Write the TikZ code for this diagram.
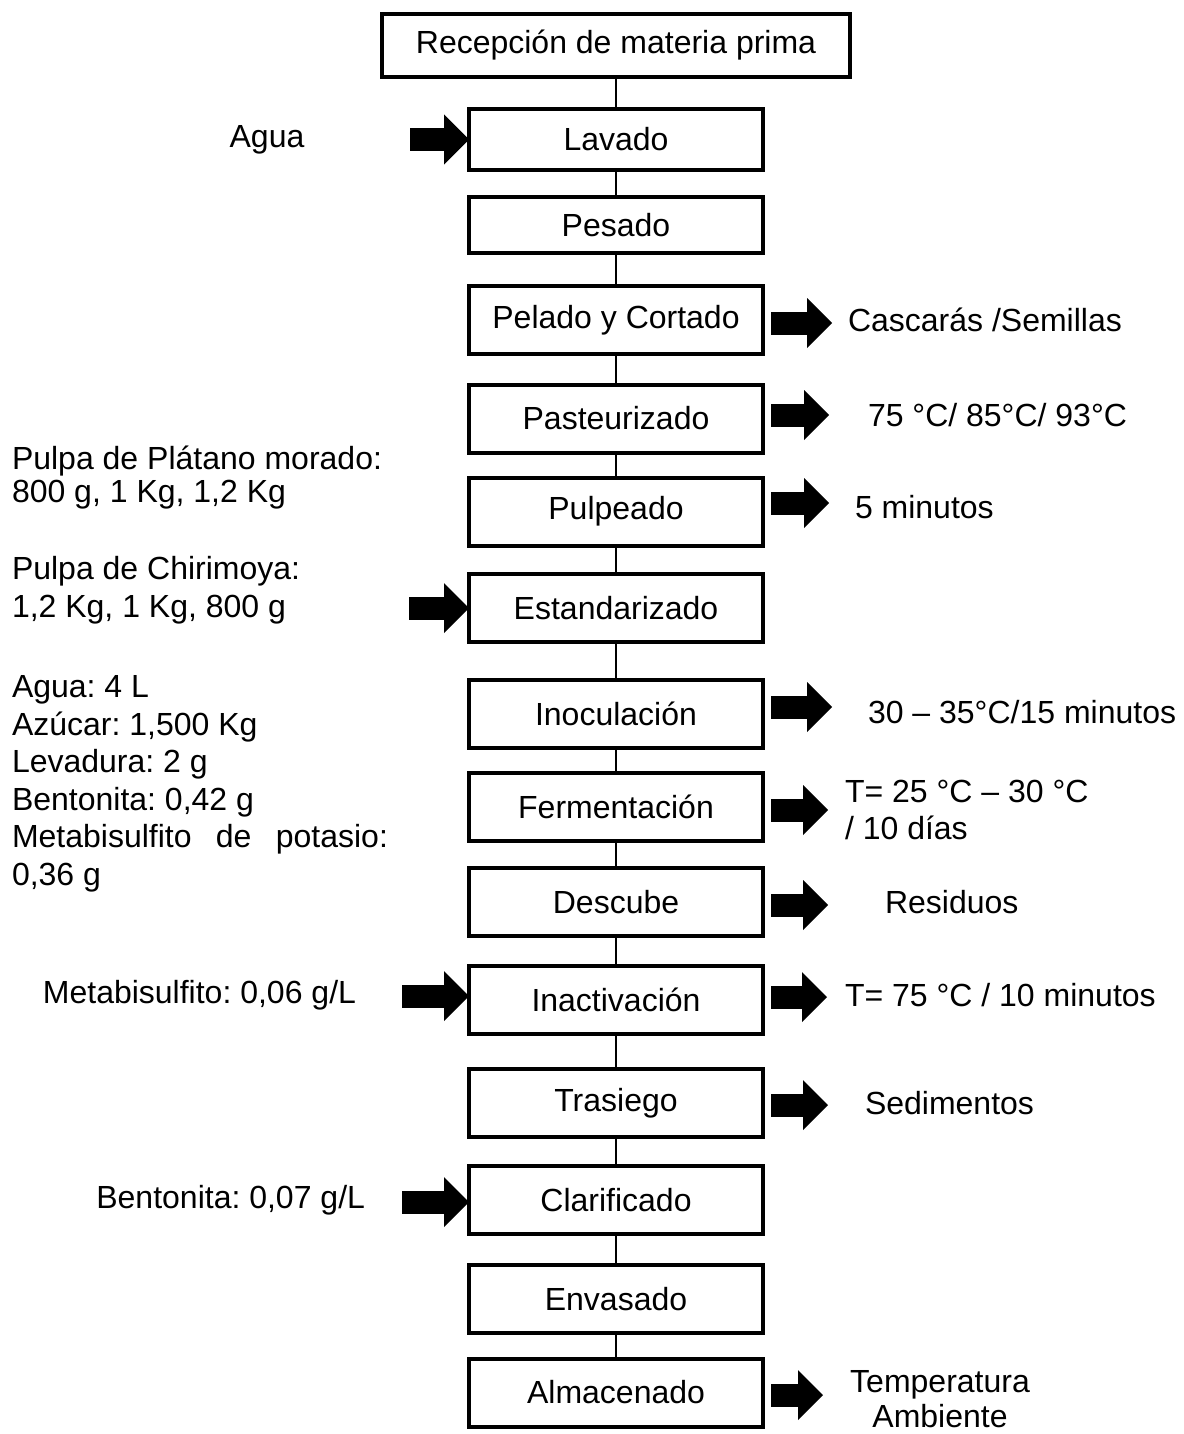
\documentclass[tikz,border=0pt]{standalone}
\usepackage{fontspec}
\setmainfont{Liberation Sans}
\usetikzlibrary{arrows.meta}
\frenchspacing

\begin{document}
\begin{tikzpicture}[x=0.5pt,y=-0.5pt]
  \tikzset{EtapaStyle/.style = {
    shape          = rectangle,
    draw           = black,
    fill           = white,
    line width     = 2pt,
    text           = black,
    inner sep      = 2pt,
    outer sep      = 0pt,
    minimum width  = 147pt,
    minimum height = 34pt,
    font           = \fontsize{16pt}{18.75pt}\selectfont
    }
  }
  \tikzset{TextoStyle/.style = {
    shape          = rectangle,
    text           = black,
    inner sep      = 0pt,
    outer sep      = 0pt,
    font           = \fontsize{16pt}{18.75pt}\selectfont
    }
  }
  \tikzset{LineaStyle/.style = {
    draw           = black,
    line width     = 0.75pt
    }
  }
  \tikzset{FlechaStyle/.style = {
    draw           = black,
    line width     = 11.5pt,
    -{Triangle[length=12.5pt, width=25pt, line width=0pt]}
    }
  }

  \useasboundingbox (0,0) rectangle (1183,1434);

  \node[EtapaStyle, minimum width=234pt, minimum height=31.5pt](recepcion) at (616, 45.5) {Recepción de materia prima};
  \node[EtapaStyle, minimum height=30.5pt](lavado) at (616, 139.5) {Lavado};
  \node[EtapaStyle, minimum height=28pt](pesado) at (616, 225) {Pesado};
  \node[EtapaStyle](pelado) at (616, 320) {Pelado y Cortado};
  \node[EtapaStyle](pasteurizado) at (616, 418.5) {Pasteurizado};
  \node[EtapaStyle](pulpeado) at (616, 511.5) {Pulpeado};
  \node[EtapaStyle](estandarizado) at (616, 608) {Estandarizado};
  \node[EtapaStyle](inoculacion) at (616, 714) {Inoculación};
  \node[EtapaStyle](fermentacion) at (616, 807) {Fermentación};
  \node[EtapaStyle](descube) at (616, 902) {Descube};
  \node[EtapaStyle](inactivacion) at (616, 999.5) {Inactivación};
  \node[EtapaStyle](trasiego) at (616, 1103) {Trasiego};
  \node[EtapaStyle](clarificado) at (616, 1200) {Clarificado};
  \node[EtapaStyle](envasado) at (616, 1299) {Envasado};
  \node[EtapaStyle](almacenado) at (616, 1392.5) {Almacenado};

  \draw[LineaStyle](recepcion) -- (lavado);
  \draw[LineaStyle](lavado) -- (pesado);
  \draw[LineaStyle](pesado) -- (pelado);
  \draw[LineaStyle](pelado) -- (pasteurizado);
  \draw[LineaStyle](pasteurizado) -- (pulpeado);
  \draw[LineaStyle](pulpeado) -- (estandarizado);
  \draw[LineaStyle](estandarizado) -- (inoculacion);
  \draw[LineaStyle](inoculacion) -- (fermentacion);
  \draw[LineaStyle](fermentacion) -- (descube);
  \draw[LineaStyle](descube) -- (inactivacion);
  \draw[LineaStyle](inactivacion) -- (trasiego);
  \draw[LineaStyle](trasiego) -- (clarificado);
  \draw[LineaStyle](clarificado) -- (envasado);
  \draw[LineaStyle](envasado) -- (almacenado);

  \node[TextoStyle](agua) at (267, 140) {Agua};
  \node[TextoStyle, anchor=west, align=left, font=\fontsize{16pt}{16.5pt}\selectfont](platano) at (12, 478) {Pulpa de Plátano morado:\\800 g, 1 Kg, 1,2 Kg};
  \node[TextoStyle, anchor=west, align=left](chirimoya) at (12, 590) {Pulpa de Chirimoya:\\1,2 Kg, 1 Kg, 800 g};
  \node[TextoStyle, anchor=west, align=left](insumos) at (12, 784) {Agua: 4 L\\Azúcar: 1,500 Kg\\Levadura: 2 g\\Bentonita: 0,42 g\\\makebox[188pt][s]{Metabisulfito de potasio:}\\0,36 g};
  \node[TextoStyle, anchor=east](metabisulfito) at (356, 995) {Metabisulfito: 0,06 g/L};
  \node[TextoStyle, anchor=east](bentonita) at (365, 1200) {Bentonita: 0,07 g/L};

  \node[TextoStyle, anchor=west](cascaras) at (848, 320) {Cascarás /Semillas};
  \node[TextoStyle, anchor=west](temperaturas) at (868, 415) {75 °C/ 85°C/ 93°C};
  \node[TextoStyle, anchor=west](minutos) at (855, 507) {5 minutos};
  \node[TextoStyle, anchor=west](inoculo) at (868, 712) {30 – 35°C/15 minutos};
  \node[TextoStyle, anchor=west, align=left](dias) at (845, 810) {T= 25 °C – 30 °C\\/ 10 días};
  \node[TextoStyle, anchor=west](residuos) at (885, 902) {Residuos};
  \node[TextoStyle, anchor=west](calor) at (845, 995) {T= 75 °C / 10 minutos};
  \node[TextoStyle, anchor=west](sedimentos) at (865, 1103) {Sedimentos};
  \node[TextoStyle, align=center, font=\fontsize{16pt}{17.5pt}\selectfont](ambiente) at (940, 1399) {Temperatura\\Ambiente};

  \coordinate (lavadoIn) at (410, 139.5);
  \coordinate (estandarizadoIn) at (409, 608);
  \coordinate (inactivacionIn) at (402, 996);
  \coordinate (clarificadoIn) at (402, 1202);
  \coordinate (peladoOut) at (832, 323);
  \coordinate (pasteurizadoOut) at (829, 415);
  \coordinate (pulpeadoOut) at (829, 503);
  \coordinate (inoculacionOut) at (832, 707);
  \coordinate (fermentacionOut) at (828, 810);
  \coordinate (descubeOut) at (828, 905);
  \coordinate (inactivacionOut) at (827, 997);
  \coordinate (trasiegoOut) at (828, 1105);
  \coordinate (almacenadoOut) at (823, 1395);

  \draw[FlechaStyle](lavadoIn) -- (lavado.west |- lavadoIn);
  \draw[FlechaStyle](estandarizadoIn) -- (estandarizado.west |- estandarizadoIn);
  \draw[FlechaStyle](inactivacionIn) -- (inactivacion.west |- inactivacionIn);
  \draw[FlechaStyle](clarificadoIn) -- (clarificado.west |- clarificadoIn);
  \draw[FlechaStyle, shorten <=4pt](pelado.east |- peladoOut) -- (peladoOut);
  \draw[FlechaStyle, shorten <=4pt](pasteurizado.east |- pasteurizadoOut) -- (pasteurizadoOut);
  \draw[FlechaStyle, shorten <=4pt](pulpeado.east |- pulpeadoOut) -- (pulpeadoOut);
  \draw[FlechaStyle, shorten <=4pt](inoculacion.east |- inoculacionOut) -- (inoculacionOut);
  \draw[FlechaStyle, shorten <=4pt](fermentacion.east |- fermentacionOut) -- (fermentacionOut);
  \draw[FlechaStyle, shorten <=4pt](descube.east |- descubeOut) -- (descubeOut);
  \draw[FlechaStyle, shorten <=4pt](inactivacion.east |- inactivacionOut) -- (inactivacionOut);
  \draw[FlechaStyle, shorten <=4pt](trasiego.east |- trasiegoOut) -- (trasiegoOut);
  \draw[FlechaStyle, shorten <=4pt](almacenado.east |- almacenadoOut) -- (almacenadoOut);

\end{tikzpicture}
\end{document}
